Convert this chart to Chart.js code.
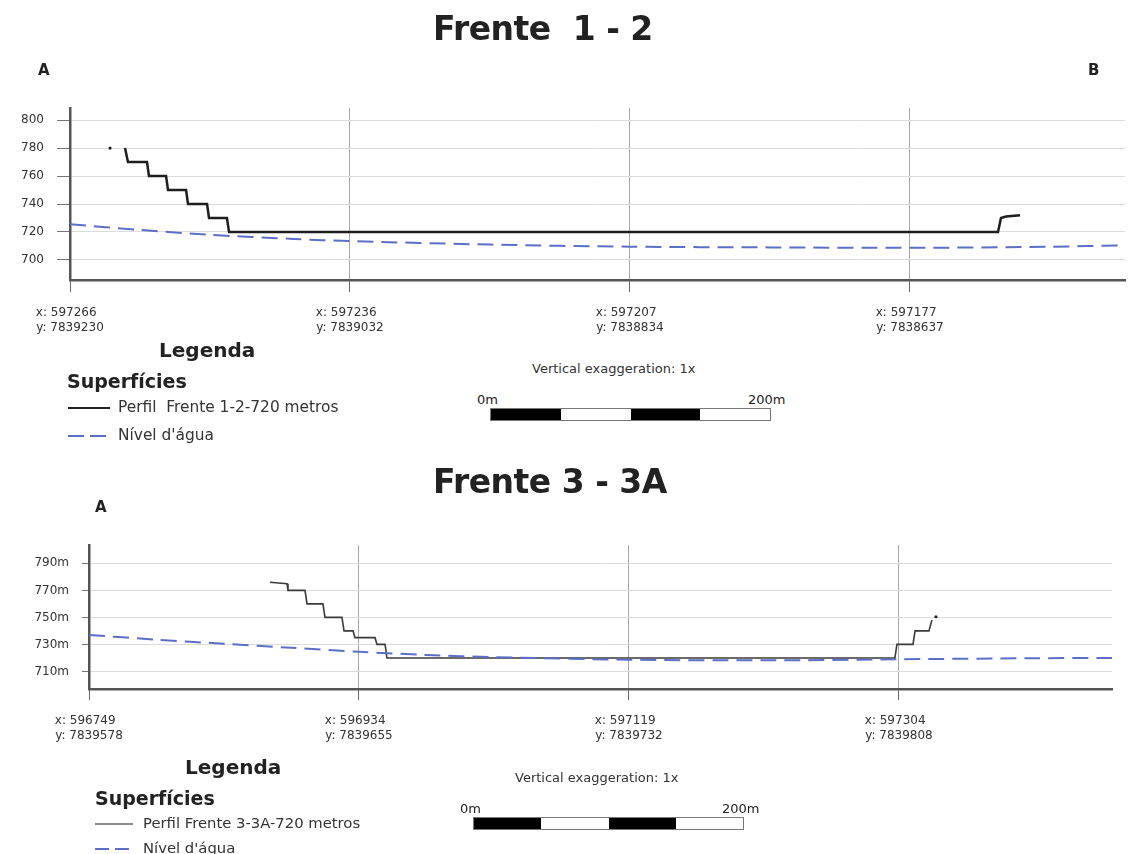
<!DOCTYPE html>
<html>
<head>
<meta charset="utf-8">
<script src="https://cdn.jsdelivr.net/npm/chart.js@4.4.1/dist/chart.umd.min.js"></script>
<style>
  body { margin:0; background:#fff; font-family:"DejaVu Sans", Verdana, sans-serif; color:#222; }
  #page { position:relative; width:1133px; height:854px; overflow:hidden; background:#fff; }
  .cv { position:absolute; left:0; }
  .t { position:absolute; white-space:nowrap; line-height:1; }
  .title { font-weight:bold; font-size:33px; letter-spacing:-0.5px; }
  .ab { font-weight:bold; font-size:15px; }
  .leg { font-weight:bold; font-size:20px; }
  .sup { font-weight:bold; font-size:19px; }
  .item { font-size:15.4px; color:#333; }
  .vex { font-size:13px; color:#333; }
  .sc { font-size:13px; color:#222; }
  .bar { position:absolute; border:1px solid #777; display:flex; }
  .bar div { flex:1; }
  svg { position:absolute; overflow:visible; }
</style>
</head>
<body>
<div id="page">
  <canvas id="c1" class="cv" style="top:0" width="1133" height="340"></canvas>
  <canvas id="c2" class="cv" style="top:440px" width="1133" height="340"></canvas>

  <div class="t title" style="left:433px;top:12px">Frente&nbsp; 1 - 2</div>
  <div class="t ab" style="left:38px;top:63px">A</div>
  <div class="t ab" style="left:1088px;top:63px">B</div>
  <div class="t leg" style="left:159px;top:340px">Legenda</div>
  <div class="t sup" style="left:67px;top:372px">Superfícies</div>
  <svg style="left:0;top:0" width="1" height="1">
    <line x1="68" y1="408" x2="110" y2="408" stroke="#222" stroke-width="2"/>
    <line x1="68" y1="436" x2="110" y2="436" stroke="#5b6fc6" stroke-width="2" stroke-dasharray="16,6"/>
  </svg>
  <div class="t item" style="left:118px;top:400px">Perfil&nbsp; Frente 1-2-720 metros</div>
  <div class="t item" style="left:118px;top:428px">Nível d'água</div>
  <div class="t vex" style="left:532px;top:362px">Vertical exaggeration: 1x</div>
  <div class="t sc" style="left:477px;top:393px">0m</div>
  <div class="t sc" style="left:748px;top:393px">200m</div>
  <div class="bar" style="left:490px;top:408px;width:279px;height:11px">
    <div style="background:#000"></div><div></div><div style="background:#000"></div><div></div>
  </div>

  <div class="t title" style="left:433px;top:465px">Frente 3 - 3A</div>
  <div class="t ab" style="left:95px;top:500px">A</div>
  <div class="t leg" style="left:185px;top:757px">Legenda</div>
  <div class="t sup" style="left:95px;top:789px">Superfícies</div>
  <svg style="left:0;top:0" width="1" height="1">
    <line x1="95" y1="824" x2="133" y2="824" stroke="#666" stroke-width="1.5"/>
    <line x1="95" y1="849" x2="133" y2="849" stroke="#5b6fc6" stroke-width="2" stroke-dasharray="14,6"/>
  </svg>
  <div class="t item" style="left:143px;top:816px;font-size:14.8px">Perfil Frente 3-3A-720 metros</div>
  <div class="t item" style="left:143px;top:841px;font-size:14.8px">Nível d'água</div>
  <div class="t vex" style="left:515px;top:771px">Vertical exaggeration: 1x</div>
  <div class="t sc" style="left:460px;top:802px">0m</div>
  <div class="t sc" style="left:722px;top:802px">200m</div>
  <div class="bar" style="left:473px;top:817px;width:269px;height:11px">
    <div style="background:#000"></div><div></div><div style="background:#000"></div><div></div>
  </div>
</div>
<script>
// ---- Frente 1 - 2 (distance along section in m, elevation in m) ----
const xTicks1 = [0, 200, 400, 600];
const xTickLabels1 = [["x: 597266", "y: 7839230"], ["x: 597236", "y: 7839032"], ["x: 597207", "y: 7838834"], ["x: 597177", "y: 7838637"]];
const yTicks1 = [700, 720, 740, 760, 780, 800];
const profile1X = [39.3, 41.4, 55, 56.4, 68.6, 70, 82.9, 84.3, 97.9, 99.3, 112.1, 113.6, 662.9, 665, 668.6, 678.6];
const profile1Y = [780, 770, 770, 760, 760, 750, 750, 740, 740, 730, 730, 720, 720, 730, 731, 732];
const dot1X = [28.6];
const dot1Y = [780];
const water1X = [0, 50, 100, 160, 200, 300, 400, 500, 600, 700, 754];
const water1Y = [725.5, 721.5, 718, 715, 713.5, 711, 709.5, 709, 708.7, 709.5, 710.5];

// ---- Frente 3 - 3A ----
const xTicks2 = [0, 200, 400, 600];
const xTickLabels2 = [["x: 596749", "y: 7839578"], ["x: 596934", "y: 7839655"], ["x: 597119", "y: 7839732"], ["x: 597304", "y: 7839808"]];
const yTicks2 = [710, 730, 750, 770, 790];
const yTickLabels2 = ["710m", "730m", "750m", "770m", "790m"];
const profile2X = [134, 146.7, 147.4, 160, 161.5, 173.3, 174.8, 187.4, 188.9, 195.6, 197, 211.9, 213.3, 219.3, 220.7, 597, 598.5, 610.4, 611.9, 622.2, 624.4];
const profile2Y = [776, 775, 770, 770, 760, 760, 750, 750, 740, 740, 735, 735, 730, 730, 720, 720, 730, 730, 740, 740, 748];
const dot2X = [627.4];
const dot2Y = [750.5];
const water2X = [0, 50, 100, 150, 200, 250, 300, 400, 500, 600, 700, 758];
const water2Y = [737, 733.5, 730.5, 727.5, 724.5, 722.2, 720.6, 718.7, 718.2, 719, 719.8, 720];

const pts = (xs, ys) => xs.map((x, i) => ({ x: x, y: ys[i] }));
const font = "'DejaVu Sans', Verdana, sans-serif";

// pad the shorter line with a figure space so both lines start at the same x
function leftAlign(lines) {
  const n = Math.max(...lines.map(l => l.length));
  return lines.map(l => l + '\u2007'.repeat(n - l.length));
}

function makeChart(id, o) {
  return new Chart(document.getElementById(id), {
    type: 'line',
    data: {
      datasets: [
        { data: pts(o.waterX, o.waterY), borderColor: '#5b6fc6', borderWidth: 2, borderDash: [16, 8], pointRadius: 0, tension: 0.3 },
        { data: pts(o.profX, o.profY), borderColor: o.profColor, borderWidth: o.profWidth, pointRadius: 0, tension: 0 },
        { data: pts(o.dotX, o.dotY), showLine: false, pointRadius: 1.6, pointBackgroundColor: '#222', pointBorderWidth: 0 }
      ]
    },
    options: {
      responsive: false,
      animation: false,
      layout: { padding: { top: o.padTop, right: o.padRight, left: 0, bottom: 0 } },
      plugins: { legend: { display: false }, tooltip: { enabled: false } },
      scales: {
        x: {
          type: 'linear', min: 0, max: o.xMax,
          afterFit: s => { s.height = o.xAxisH; },
          afterBuildTicks: s => { s.ticks = o.xTicks.map(v => ({ value: v })); },
          grid: { color: '#a8a8a8', lineWidth: 1, tickLength: o.xTickLen, tickColor: '#666' },
          border: { color: '#555', width: 2.5 },
          ticks: {
            padding: 13, color: '#333', maxRotation: 0, autoSkip: false,
            font: { family: font, size: 12, lineHeight: 1.25 },
            callback: (v) => leftAlign(o.xTickLabels[o.xTicks.indexOf(v)])
          }
        },
        y: {
          type: 'linear', min: o.yMin, max: o.yMax,
          afterFit: s => { s.width = o.yAxisW; },
          afterBuildTicks: s => { s.ticks = o.yTicks.map(v => ({ value: v })); },
          grid: { color: '#dcdcdc', lineWidth: 1, tickLength: o.yTickLen, tickColor: '#777' },
          border: { color: '#555', width: 2.5 },
          ticks: {
            padding: 13, color: '#333',
            font: { family: font, size: 12 },
            callback: (v) => o.yTickLabels[o.yTicks.indexOf(v)]
          }
        }
      }
    }
  });
}

makeChart('c1', {
  waterX: water1X, waterY: water1Y, profX: profile1X, profY: profile1Y, dotX: dot1X, dotY: dot1Y,
  profColor: '#1e1e1e', profWidth: 2.5,
  xMax: 753.6, yMin: 685.7, yMax: 808.6,
  xTicks: xTicks1, xTickLabels: xTickLabels1, yTicks: yTicks1, yTickLabels: yTicks1.map(String),
  padTop: 108, padRight: 8, yAxisW: 70, xAxisH: 60, xTickLen: 12, yTickLen: 13
});

makeChart('c2', {
  waterX: water2X, waterY: water2Y, profX: profile2X, profY: profile2Y, dotX: dot2X, dotY: dot2Y,
  profColor: '#3a3a3a', profWidth: 1.6,
  xMax: 757.8, yMin: 697, yMax: 803.6,
  xTicks: xTicks2, xTickLabels: xTickLabels2, yTicks: yTicks2, yTickLabels: yTickLabels2,
  padTop: 105, padRight: 21, yAxisW: 89, xAxisH: 91, xTickLen: 11, yTickLen: 7
});
</script>
</body>
</html>
